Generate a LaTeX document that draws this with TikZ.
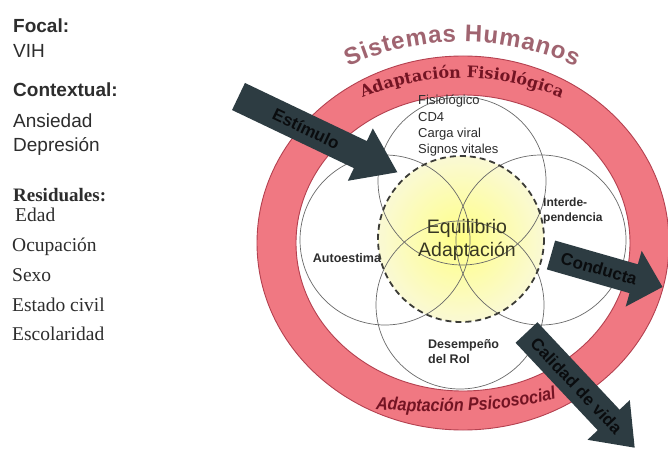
\documentclass[tikz,border=0pt]{standalone}
\usepackage{fontspec}
\setmainfont{Liberation Serif}
\setsansfont{Liberation Sans}
\newfontfamily\titlefont{Liberation Sans}
\newfontfamily\fisfont{DejaVu Serif}
\newfontfamily\psifont[FakeStretch=0.9]{Liberation Sans}
\usetikzlibrary{decorations.text,calc}

\definecolor{ringpink}{RGB}{240,120,130}
\definecolor{ringedge}{RGB}{180,65,80}
\definecolor{ringtext}{RGB}{115,20,35}
\definecolor{titlecol}{RGB}{160,100,112}
\definecolor{arrowcol}{RGB}{45,60,66}
\definecolor{arrowtxt}{RGB}{10,12,14}
\definecolor{txtgray}{RGB}{45,45,45}
\definecolor{circgray}{RGB}{105,105,105}
\definecolor{dashcol}{RGB}{60,60,55}
\definecolor{yelin}{RGB}{255,255,135}
\definecolor{yelout}{RGB}{250,249,212}
\definecolor{eqtext}{RGB}{55,55,35}

% #1 name, #2 x, #3 y, #4 angle (image, clockwise), #5 length, #6 head length, #7 text position, #8 text
\newcommand\DrawBlockArrow[8]{%
  \begin{scope}[shift={(#2,#3)},rotate=-#4]
    \fill[arrowcol] (0,-15) -- ({#5-#6},-15) -- ({#5-#6},-29) -- (#5,0)
      -- ({#5-#6},29) -- ({#5-#6},15) -- (0,15) -- cycle;
  \end{scope}
  \node[arrowlabel, rotate=-#4] (#1) at ($(#2,#3)+(#4:#7)$) {#8};}

\begin{document}
\begin{tikzpicture}[x=1pt,y=-1pt,
  venn/.style={draw=circgray, line width=0.7},
  eqdash/.style={draw=dashcol, line width=1.8, dash pattern=on 6pt off 4pt},
  lefthead/.style={anchor=base west, inner sep=0, text=txtgray, font=\sffamily\bfseries\fontsize{19}{22}\selectfont},
  leftsans/.style={anchor=base west, inner sep=0, text=txtgray, font=\sffamily\fontsize{19}{22}\selectfont},
  leftserif/.style={anchor=base west, inner sep=0, text=txtgray, font=\rmfamily\fontsize{19.5}{22}\selectfont},
  leftserifhead/.style={anchor=base west, inner sep=0, text=txtgray, font=\rmfamily\bfseries\fontsize{19}{22}\selectfont},
  venntext/.style={inner sep=0, text=txtgray, font=\sffamily\bfseries\fontsize{12}{15}\selectfont, align=left},
  arrowlabel/.style={inner sep=0, text=arrowtxt, font=\sffamily\bfseries\fontsize{17}{17}\selectfont},
]
\useasboundingbox (0,0) rectangle (668,454);
\clip (0,0) rectangle (668,454);
\fill[white] (0,0) rectangle (668,454);

% ring
\fill[ringpink, even odd rule] (463,243) ellipse [x radius=206, y radius=187]
  (463,243) ellipse [x radius=167, y radius=148];
\draw[ringedge, line width=0.9] (463,243) ellipse [x radius=206, y radius=187];
\draw[ringedge, line width=0.9] (463,243) ellipse [x radius=167, y radius=148];

% yellow centre
\shade[inner color=yelin, outer color=yelout] (461,239) circle [radius=83];

% venn circles
\draw[venn] (462,181) circle [radius=84];
\draw[venn] (460,305) circle [radius=84];
\draw[venn] (385,240) circle [radius=85];
\draw[venn] (541,240) circle [radius=85];

% labels inside
\node[venntext, font=\sffamily\fontsize{13}{16.3}\selectfont, anchor=north west] (fis) at (418,95)
  {Fisiológico\\CD4\\Carga viral\\Signos vitales};
\node[venntext, anchor=north west] (inter) at (543,198) {Interde-\\pendencia};
\node[venntext, font=\sffamily\bfseries\fontsize{12.5}{15}\selectfont] (auto) at (347,258) {Autoestima};
\node[venntext, font=\sffamily\bfseries\fontsize{12.5}{15}\selectfont, anchor=north west] (rol) at (428,339) {Desempeño\\del Rol};

\draw[eqdash] (461,239) circle [radius=83];

\node[font=\sffamily\fontsize{19.5}{23}\selectfont, align=center, text=eqtext, inner sep=0] (eq) at (467,240)
  {Equilibrio\\Adaptación};

% curved texts
\path[decorate, decoration={text along path,
   text={|\titlefont\bfseries\fontsize{24}{24}\selectfont\color{titlecol}|Sistemas Humanos},
   text align={fit to path}}]
   (462,322) ++(246:280) arc[start angle=246, end angle=294, radius=280];
\path[decorate, decoration={text along path,
   text={|\fisfont\bfseries\fontsize{16}{16}\selectfont\color{ringtext}|Adaptación Fisiológica},
   text align=center}]
   (462,335) ++(240:257) arc[start angle=240, end angle=300, radius=257];
\path[decorate, decoration={text along path,
   text={|\psifont\bfseries\itshape\fontsize{18}{18}\selectfont\color{ringtext}|Adaptación Psicosocial},
   text align=center}]
   (366,408) .. controls (430,415) and (505,413) .. (566,396);

% arrows (angle measured clockwise in the image)
\DrawBlockArrow{estimulo}{238.5}{96.5}{25.5}{176}{41}{75}{Estímulo}
\DrawBlockArrow{conducta}{551}{255}{16}{116}{30}{50}{Conducta}
\DrawBlockArrow{calidad}{526.5}{332.5}{46.8}{158}{38}{73}{Calidad de vida}

% left texts
\node[lefthead] (focal) at (13,33) {Focal:};
\node[leftsans] (vih) at (13,58) {VIH};
\node[lefthead] (contextual) at (13,97) {Contextual:};
\node[leftsans] (ansiedad) at (13,128) {Ansiedad};
\node[leftsans] (depresion) at (13,152) {Depresión};
\node[leftserifhead] (residuales) at (13,202) {Residuales:};
\node[leftserif] (edad) at (15,222) {Edad};
\node[leftserif] (ocupacion) at (12,251) {Ocupación};
\node[leftserif] (sexo) at (12,281) {Sexo};
\node[leftserif] (civil) at (12,311) {Estado civil};
\node[leftserif] (escolaridad) at (12,340) {Escolaridad};
\end{tikzpicture}
\end{document}
